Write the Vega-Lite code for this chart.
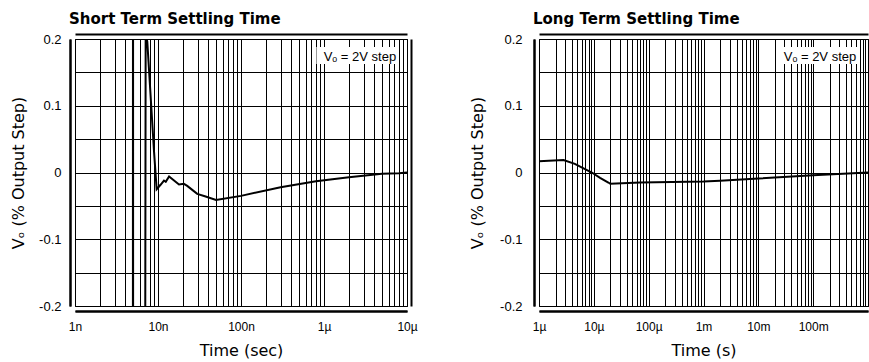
{
  "$schema": "https://vega.github.io/schema/vega-lite/v6.json",
  "background": "white",
  "padding": {"left": 10, "top": 11, "right": 0, "bottom": 0},
  "spacing": 51,
  "config": {
    "font": "Liberation Sans",
    "view": {"stroke": "black", "strokeWidth": 1},
    "title": {"font": "DejaVu Sans", "fontSize": 15, "fontWeight": "bold", "color": "black", "anchor": "start", "frame": "group"},
    "axis": {"labelFont": "Liberation Sans", "titleFont": "DejaVu Sans", "labelColor": "black", "titleColor": "black", "labelFontSize": 12, "titleFontSize": 16, "titleFontWeight": "normal", "gridColor": "black", "gridOpacity": 1, "gridWidth": 1, "domainColor": "black", "domainWidth": 2, "domainOpacity": 1, "ticks": false, "tickSize": 0, "labelOverlap": false, "labelFlush": false, "labelBound": false}
  },
  "hconcat": [
    {
      "width": 332,
      "height": 267,
      "title": {"text": "Short Term Settling Time", "dx": -6, "offset": 6},
      "layer": [
        {
          "data": {"values": [
            {"t": 4.98e-9, "v": -0.6},
            {"t": 5.0e-9, "v": 0.6},
            {"t": 5.02e-9, "v": -0.6},
            {"t": 6.95e-9, "v": -0.6},
            {"t": 7.1e-9, "v": 0.2},
            {"t": 7.2e-9, "v": 0.203},
            {"t": 7.43e-9, "v": 0.196},
            {"t": 8.95e-9, "v": 0.032},
            {"t": 9.63e-9, "v": -0.025},
            {"t": 1.08e-8, "v": -0.018},
            {"t": 1.18e-8, "v": -0.012},
            {"t": 1.24e-8, "v": -0.014},
            {"t": 1.36e-8, "v": -0.006},
            {"t": 1.79e-8, "v": -0.018},
            {"t": 2.05e-8, "v": -0.017},
            {"t": 2.25e-8, "v": -0.02},
            {"t": 2.97e-8, "v": -0.032},
            {"t": 3.75e-8, "v": -0.036},
            {"t": 5.0e-8, "v": -0.041},
            {"t": 1.0e-7, "v": -0.035},
            {"t": 3.0e-7, "v": -0.022},
            {"t": 8.0e-7, "v": -0.013},
            {"t": 2.0e-6, "v": -0.007},
            {"t": 5.0e-6, "v": -0.002},
            {"t": 8.0e-6, "v": -0.001},
            {"t": 1.0e-5, "v": 0.0}
          ]},
          "mark": {"type": "line", "color": "black", "strokeWidth": 2, "clip": true},
          "encoding": {
            "x": {
              "field": "t", "type": "quantitative",
              "scale": {"type": "log", "domain": [1e-9, 1e-5]},
              "axis": {
                "orient": "bottom",
                "values": [1e-9,2e-9,3e-9,4e-9,5e-9,6e-9,7e-9,8e-9,9e-9,1e-8,2e-8,3e-8,4e-8,5e-8,6e-8,7e-8,8e-8,9e-8,1e-7,2e-7,3e-7,4e-7,5e-7,6e-7,7e-7,8e-7,9e-7,1e-6,2e-6,3e-6,4e-6,5e-6,6e-6,7e-6,8e-6,9e-6,1e-5],
                "labelExpr": "abs(log(datum.value)/LN10 - round(log(datum.value)/LN10)) < 0.001 ? format(datum.value, '~s') : ''",
                "grid": true, "offset": 5, "labelPadding": 10,
                "domain": true,
                "title": "Time (sec)", "titlePadding": 10
              }
            },
            "y": {
              "field": "v", "type": "quantitative",
              "scale": {"domain": [-0.2, 0.2]},
              "axis": {
                "orient": "left",
                "values": [-0.2,-0.15,-0.1,-0.05,0,0.05,0.1,0.15,0.2],
                "labelExpr": "abs(datum.value*10 - round(datum.value*10)) < 0.001 ? (datum.value < -0.01 ? '-' + format(-datum.value, '.1f') : (datum.value > 0.01 ? format(datum.value, '.1f') : '0')) : ''",
                "labelFontSize": 13,
                "grid": true, "offset": 5, "labelPadding": 9,
                "domain": true,
                "title": "Vₒ (% Output Step)", "titlePadding": 12
              }
            }
          }
        },
        {
          "data": {"values": [{"note": "Vₒ = 2V step"}]},
          "mark": {"type": "rect", "fill": "white", "stroke": null},
          "encoding": {
            "x": {"datum": 8.1e-7, "type": "quantitative", "axis": {"orient": "top", "labels": false, "grid": false, "domain": true, "offset": 5, "title": null}},
            "x2": {"datum": 8.0e-6},
            "y": {"datum": 0.188, "type": "quantitative", "axis": {"orient": "right", "labels": false, "grid": false, "domain": true, "offset": 4, "title": null}},
            "y2": {"datum": 0.1625}
          }
        },
        {
          "data": {"values": [{"note": "Vₒ = 2V step"}]},
          "mark": {"type": "text", "align": "right", "baseline": "alphabetic", "fontSize": 13, "color": "black"},
          "encoding": {
            "x": {"datum": 7.4e-6, "type": "quantitative", "axis": {"orient": "bottom", "labels": false, "grid": false, "domain": true, "offset": 5, "title": null}},
            "y": {"datum": 0.167, "type": "quantitative", "axis": {"orient": "left", "labels": false, "grid": false, "domain": true, "offset": 5, "title": null}},
            "text": {"field": "note"}
          }
        }
      ]
    },
    {
      "width": 329,
      "height": 267,
      "title": {"text": "Long Term Settling Time", "dx": -6, "offset": 6},
      "layer": [
        {
          "data": {"values": [
            {"t": 1.0e-6, "v": 0.017},
            {"t": 2.8e-6, "v": 0.0187},
            {"t": 4.5e-6, "v": 0.013},
            {"t": 9.2e-6, "v": 0.0},
            {"t": 1.3e-5, "v": -0.008},
            {"t": 1.84e-5, "v": -0.015},
            {"t": 2.0e-5, "v": -0.017},
            {"t": 7.0e-5, "v": -0.015},
            {"t": 1.0e-3, "v": -0.0135},
            {"t": 2.0e-3, "v": -0.0125},
            {"t": 1.0e-2, "v": -0.009},
            {"t": 1.0e-1, "v": -0.004},
            {"t": 1.0, "v": 0.0}
          ]},
          "mark": {"type": "line", "color": "black", "strokeWidth": 2, "clip": true},
          "encoding": {
            "x": {
              "field": "t", "type": "quantitative",
              "scale": {"type": "log", "domain": [1e-6, 1]},
              "axis": {
                "orient": "bottom",
                "values": [1e-6,2e-6,3e-6,4e-6,5e-6,6e-6,7e-6,8e-6,9e-6,1e-5,2e-5,3e-5,4e-5,5e-5,6e-5,7e-5,8e-5,9e-5,1e-4,2e-4,3e-4,4e-4,5e-4,6e-4,7e-4,8e-4,9e-4,1e-3,2e-3,3e-3,4e-3,5e-3,6e-3,7e-3,8e-3,9e-3,0.01,0.02,0.03,0.04,0.05,0.06,0.07,0.08,0.09,0.1,0.2,0.3,0.4,0.5,0.6,0.7,0.8,0.9,1],
                "labelExpr": "datum.value < 0.5 && abs(log(datum.value)/LN10 - round(log(datum.value)/LN10)) < 0.001 ? format(datum.value, '~s') : ''",
                "grid": true, "offset": 5, "labelPadding": 10,
                "domain": true,
                "title": "Time (s)", "titlePadding": 10
              }
            },
            "y": {
              "field": "v", "type": "quantitative",
              "scale": {"domain": [-0.2, 0.2]},
              "axis": {
                "orient": "left",
                "values": [-0.2,-0.15,-0.1,-0.05,0,0.05,0.1,0.15,0.2],
                "labelExpr": "abs(datum.value*10 - round(datum.value*10)) < 0.001 ? (datum.value < -0.01 ? '-' + format(-datum.value, '.1f') : (datum.value > 0.01 ? format(datum.value, '.1f') : '0')) : ''",
                "labelFontSize": 13,
                "grid": true, "offset": 5, "labelPadding": 12,
                "domain": true,
                "title": "Vₒ (% Output Step)", "titlePadding": 14
              }
            }
          }
        },
        {
          "data": {"values": [{"note": "Vₒ = 2V step"}]},
          "mark": {"type": "rect", "fill": "white", "stroke": null},
          "encoding": {
            "x": {"datum": 0.0232, "type": "quantitative", "axis": {"orient": "top", "labels": false, "grid": false, "domain": true, "offset": 5, "title": null}},
            "x2": {"datum": 0.65},
            "y": {"datum": 0.188, "type": "quantitative", "axis": {"orient": "right", "labels": false, "grid": false, "domain": false, "offset": 4, "title": null}},
            "y2": {"datum": 0.1625}
          }
        },
        {
          "data": {"values": [{"note": "Vₒ = 2V step"}]},
          "mark": {"type": "text", "align": "right", "baseline": "alphabetic", "fontSize": 13, "color": "black"},
          "encoding": {
            "x": {"datum": 0.61, "type": "quantitative", "axis": {"orient": "bottom", "labels": false, "grid": false, "domain": true, "offset": 5, "title": null}},
            "y": {"datum": 0.167, "type": "quantitative", "axis": {"orient": "left", "labels": false, "grid": false, "domain": true, "offset": 5, "title": null}},
            "text": {"field": "note"}
          }
        }
      ]
    }
  ]
}
